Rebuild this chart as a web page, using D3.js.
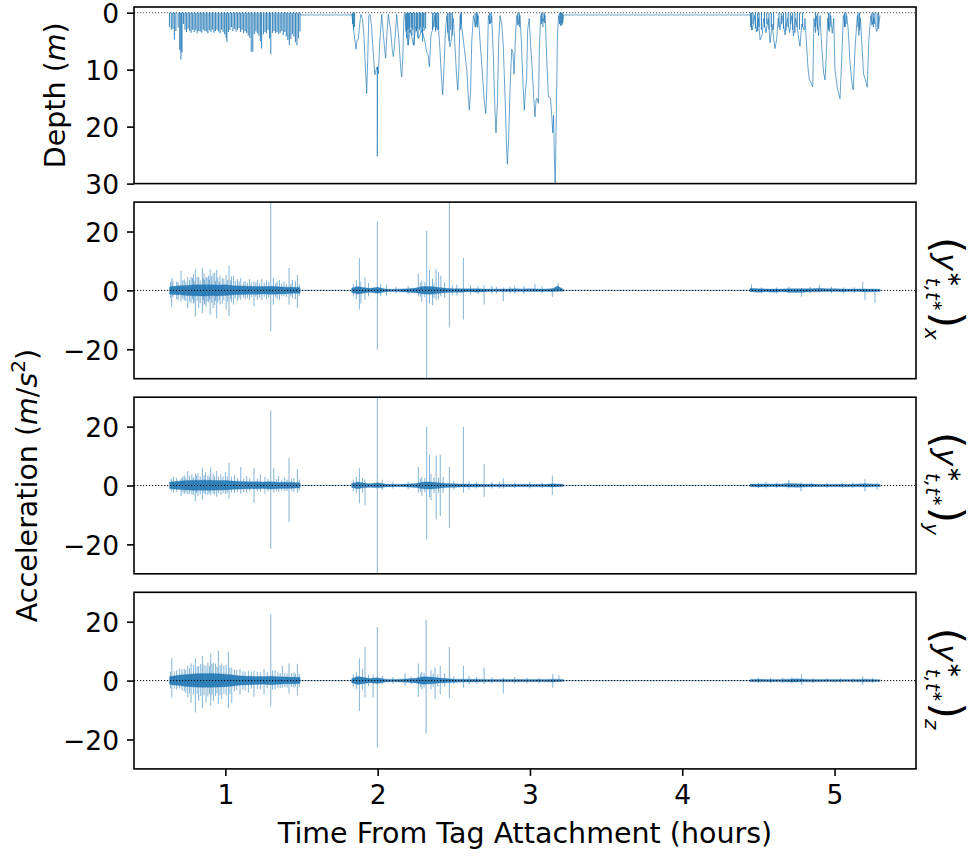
<!DOCTYPE html>
<html>
<head>
<meta charset="utf-8">
<script src="https://cdn.jsdelivr.net/npm/d3@7"></script>
<style>
body{margin:0;background:#fff}
svg text{font-family:"DejaVu Sans",sans-serif;fill:#000}
</style>
</head>
<body>
<svg id="chart" width="972" height="857"></svg>
<script>
// ---- data (hours from tag attachment) ----
const xTicks = [1, 2, 3, 4, 5]
const depthTicks = [0, 10, 20, 30]
const accTicks = [-20, 0, 20]

// short shallow dives: [t, max depth m]
const depthStrokes = [
  [0.633,2.5],[0.645,3.0],[0.655,2.8],[0.665,4.7],[0.675,3.2],[0.690,2.6],[0.700,6.5],[0.708,8.2],[0.715,7.0],[0.725,2.0],
  [0.735,3.0],[0.745,3.4],[0.755,2.8],[0.765,3.2],[0.775,3.5],[0.785,3.0],[0.795,3.4],[0.805,3.1],[0.815,3.6],[0.825,3.2],
  [0.835,3.3],[0.845,3.5],[0.855,3.0],[0.865,3.2],[0.875,3.3],[0.885,3.6],[0.895,3.1],[0.905,3.4],[0.915,3.0],[0.925,3.5],
  [0.935,3.2],[0.945,3.0],[0.955,3.3],[0.965,3.6],[0.975,3.0],[0.985,3.4],[0.995,3.8],[1.005,4.5],[1.010,5.1],[1.020,3.4],
  [1.030,3.0],[1.040,2.5],[1.050,3.2],[1.060,2.8],[1.070,3.3],[1.080,3.0],[1.090,2.7],[1.100,3.4],[1.110,3.0],[1.120,3.6],
  [1.130,3.2],[1.140,3.5],[1.150,4.0],[1.160,4.4],[1.170,6.8],[1.180,6.9],[1.190,3.8],[1.200,3.3],[1.210,3.6],[1.220,4.0],
  [1.230,5.0],[1.238,6.3],[1.250,3.8],[1.260,3.4],[1.270,3.6],[1.280,3.0],[1.290,4.5],[1.298,7.3],[1.310,3.5],[1.320,3.2],
  [1.330,3.6],[1.340,3.4],[1.350,3.8],[1.360,3.5],[1.370,3.2],[1.380,3.9],[1.390,3.4],[1.400,4.2],[1.410,4.8],[1.420,5.7],
  [1.430,4.6],[1.440,3.8],[1.450,4.2],[1.460,5.2],[1.470,5.7],[1.480,4.5],[1.490,3.3],
  [1.835,2.0],[1.842,3.0],[1.848,2.5],[2.185,3.3],[2.190,4.5],[2.195,3.0],[2.200,5.7],[2.205,2.8],[2.210,3.5],[2.220,2.6],
  [2.225,4.0],[2.230,3.0],[2.240,5.7],[2.245,2.5],[2.255,3.2],[2.260,2.8],[2.265,4.5],[2.275,3.0],[2.280,2.6],[2.285,3.5],
  [2.295,5.0],[2.300,2.5],[2.305,3.2],[2.315,2.8],[2.360,3.0],[2.370,2.5],[2.380,3.3],[2.385,2.6],[2.395,2.8],[2.400,3.0],
  [2.460,3.5],[2.470,5.0],[2.480,3.0],[2.490,4.0],[2.545,3.0],[2.550,2.0],[2.640,2.5],[2.650,2.0],[2.655,2.6],[2.735,2.0],
  [2.745,1.8],[2.920,2.2],[2.930,2.5],[3.075,2.0],[3.085,2.5],[3.095,1.8],[3.195,2.0],[3.200,2.3],[3.205,1.8],[3.210,2.2],[3.215,1.9],
  [4.450,2.5],[4.455,3.0],[4.465,2.0],[4.480,2.8],[4.495,3.2],[4.505,2.5],[4.520,3.0],[4.540,2.6],[4.555,2.0],[4.570,3.0],
  [4.585,2.5],[4.600,3.0],[4.635,2.5],[4.650,2.0],[4.665,2.8],[4.680,3.2],[4.695,2.5],[4.710,2.0],[4.725,3.0],[4.740,3.5],
  [4.755,2.5],[4.770,3.0],[4.790,2.5],[4.875,2.5],[4.890,3.0],[4.960,3.0],[4.970,2.5],[5.065,2.5],[5.075,2.0],[5.155,2.5],
  [5.165,3.0],[5.245,2.2],[5.255,2.5],[5.265,2.0],[5.280,2.5],[5.290,2.8]
]

// depth profile of the deeper dives: [t, depth m]
const depthTrace = [
  [1.490,0.4],[1.829,0.4],
  [1.830,0.3],[1.840,2.5],[1.850,4.8],[1.858,6.4],[1.865,4.8],[1.873,4.7],[1.882,2.0],[1.890,0.3],[1.900,1.0],[1.910,4.0],
  [1.918,9.0],[1.928,14.2],[1.935,8.0],[1.942,0.5],[1.950,0.3],[1.960,2.5],[1.968,6.0],[1.976,8.9],[1.982,10.9],[1.990,10.0],
  [1.997,9.5],[1.998,25.2],[1.999,9.5],[2.005,10.7],[2.014,5.0],[2.027,0.3],[2.038,4.0],[2.048,7.0],[2.053,8.0],[2.060,4.0],
  [2.070,0.3],[2.085,3.0],[2.096,6.5],[2.103,7.7],[2.110,6.0],[2.125,0.3],[2.140,5.0],[2.152,10.0],[2.158,11.3],[2.165,8.0],
  [2.173,0.3],[2.180,0.3],[2.200,5.7],[2.215,3.0],[2.235,5.7],[2.250,2.5],[2.270,4.5],[2.290,3.0],[2.310,5.0],[2.322,6.9],
  [2.332,7.5],[2.340,9.5],[2.350,4.0],[2.365,2.5],[2.377,0.5],[2.390,3.0],[2.400,2.8],[2.408,6.0],[2.418,11.0],[2.427,14.4],
  [2.435,10.0],[2.445,3.0],[2.455,0.5],[2.464,4.0],[2.475,6.0],[2.485,4.5],[2.497,1.0],[2.508,6.0],[2.518,11.0],[2.526,13.6],
  [2.533,10.0],[2.541,0.5],[2.555,3.0],[2.570,6.5],[2.585,10.0],[2.595,14.5],[2.602,17.1],[2.610,14.0],[2.618,5.0],[2.629,0.5],
  [2.645,2.5],[2.661,0.5],[2.675,6.0],[2.690,11.5],[2.700,15.5],[2.710,17.7],[2.716,14.0],[2.727,0.5],[2.738,2.0],[2.749,0.5],
  [2.760,8.0],[2.770,17.0],[2.777,21.1],[2.786,16.0],[2.795,5.0],[2.803,0.5],[2.815,2.0],[2.825,6.0],[2.838,16.0],[2.847,24.0],
  [2.852,26.6],[2.860,22.0],[2.870,13.0],[2.880,6.4],[2.888,7.0],[2.896,10.8],[2.905,4.0],[2.913,0.5],[2.925,2.0],[2.935,0.5],
  [2.945,6.0],[2.955,13.0],[2.963,17.1],[2.970,14.0],[2.978,11.8],[2.985,3.0],[2.995,1.0],[3.005,6.0],[3.015,10.0],[3.025,15.0],
  [3.033,18.3],[3.040,15.4],[3.045,15.0],[3.056,15.9],[3.062,6.0],[3.071,0.5],[3.085,1.5],[3.100,0.5],[3.110,8.0],[3.121,14.8],
  [3.135,15.0],[3.144,18.5],[3.150,21.1],[3.155,18.0],[3.160,25.0],[3.166,30.5],[3.172,20.0],[3.180,5.0],[3.187,0.5],[3.195,1.9],
  [3.205,2.2],[3.215,1.5],[3.220,0.5],[3.222,0.4],[4.443,0.4],
  [4.445,0.3],[4.460,3.0],[4.475,0.5],[4.489,3.4],[4.500,1.0],[4.511,4.8],[4.525,3.8],[4.535,1.0],[4.550,3.5],[4.565,1.0],
  [4.577,5.3],[4.590,2.0],[4.600,4.5],[4.609,6.3],[4.620,4.7],[4.630,1.0],[4.642,3.0],[4.655,0.5],[4.675,3.9],[4.690,1.0],
  [4.705,3.5],[4.720,0.5],[4.730,4.1],[4.745,1.0],[4.760,3.6],[4.773,5.9],[4.785,2.0],[4.800,3.0],[4.806,1.0],[4.815,5.0],
  [4.825,9.5],[4.835,11.8],[4.845,12.2],[4.857,13.0],[4.865,1.0],[4.875,3.5],[4.883,0.5],[4.895,4.0],[4.905,0.5],[4.916,6.0],
  [4.928,10.5],[4.938,11.8],[4.945,8.0],[4.955,1.0],[4.966,3.3],[4.975,0.5],[4.985,3.6],[4.995,1.0],[5.003,10.1],[5.020,13.5],
  [5.036,15.1],[5.046,9.0],[5.058,0.5],[5.070,2.5],[5.080,0.5],[5.090,3.0],[5.102,8.9],[5.115,12.5],[5.123,13.5],[5.135,6.0],
  [5.150,0.5],[5.160,4.0],[5.170,1.0],[5.180,5.5],[5.190,10.7],[5.205,12.0],[5.215,13.1],[5.225,5.0],[5.238,0.5],[5.250,2.0],
  [5.260,1.0],[5.277,3.3],[5.290,2.0],[5.299,0.5]
]

// dense core of the acceleration signal: [t, low, high] m/s^2
const xBand = [
  [0.633,-1.2,1.2],[0.66,-1.4,1.4],[0.70,-1.5,1.6],[0.75,-1.7,1.7],[0.80,-1.8,1.9],[0.85,-1.9,1.9],[0.90,-1.8,1.9],[0.95,-1.8,1.8],
  [1.00,-1.7,1.9],[1.05,-1.5,1.6],[1.10,-1.4,1.5],[1.15,-1.3,1.4],[1.20,-1.3,1.3],[1.25,-1.2,1.3],[1.30,-1.3,1.4],[1.35,-1.2,1.2],
  [1.40,-1.1,1.1],[1.45,-1.0,1.1],[1.49,-1.0,1.0],[1.492,0,0],[1.828,0,0],
  [1.83,-0.7,0.8],[1.87,-1.2,1.3],[1.90,-1.0,1.0],[1.95,-0.6,0.7],[2.00,-1.0,1.1],[2.05,-0.5,0.5],[2.10,-0.4,0.4],[2.15,-0.5,0.5],
  [2.20,-0.6,0.6],[2.25,-0.8,0.8],[2.30,-1.2,1.3],[2.35,-1.3,1.3],[2.40,-1.0,1.0],[2.45,-0.7,0.7],[2.50,-0.6,0.6],[2.55,-0.6,0.6],
  [2.60,-0.5,0.6],[2.65,-0.6,0.6],[2.70,-0.5,0.5],[2.75,-0.4,0.5],[2.80,-0.4,0.5],[2.85,-0.4,0.5],[2.90,-0.4,0.6],[2.95,-0.4,0.5],
  [3.00,-0.4,0.6],[3.05,-0.4,0.5],[3.10,-0.4,0.5],[3.15,-0.4,0.6],[3.18,-0.3,1.5],[3.22,-0.3,0.4],[3.222,0,0],[4.443,0,0],
  [4.445,-0.5,0.7],[4.50,-0.6,0.6],[4.55,-0.5,0.5],[4.60,-0.6,0.5],[4.65,-0.5,0.5],[4.70,-0.6,0.6],[4.75,-0.7,0.6],[4.80,-0.6,0.6],
  [4.85,-0.5,0.6],[4.90,-0.5,0.7],[4.95,-0.4,0.6],[5.00,-0.4,0.6],[5.05,-0.5,0.5],[5.10,-0.4,0.5],[5.15,-0.4,0.5],[5.20,-0.5,0.5],
  [5.25,-0.5,0.5],[5.30,-0.4,0.4]
]
const yBand = [
  [0.633,-1.0,1.2],[0.66,-1.2,1.3],[0.70,-1.4,1.5],[0.75,-1.5,1.7],[0.80,-1.6,1.8],[0.85,-1.6,1.8],[0.90,-1.6,1.8],[0.95,-1.5,1.7],
  [1.00,-1.5,1.7],[1.05,-1.3,1.5],[1.10,-1.2,1.4],[1.15,-1.1,1.3],[1.20,-1.1,1.3],[1.25,-1.0,1.2],[1.30,-1.2,1.3],[1.35,-1.0,1.1],
  [1.40,-1.0,1.1],[1.45,-0.9,1.0],[1.49,-0.8,0.9],[1.492,0,0],[1.828,0,0],
  [1.83,-0.7,0.7],[1.87,-1.1,1.2],[1.90,-0.8,0.9],[1.95,-0.6,0.6],[2.00,-0.8,0.9],[2.05,-0.5,0.5],[2.10,-0.4,0.4],[2.15,-0.4,0.4],
  [2.20,-0.5,0.5],[2.25,-0.7,0.7],[2.30,-1.1,1.2],[2.35,-1.2,1.2],[2.40,-0.9,0.9],[2.45,-0.7,0.7],[2.50,-0.6,0.6],[2.55,-0.5,0.5],
  [2.60,-0.5,0.5],[2.65,-0.5,0.5],[2.70,-0.4,0.4],[2.75,-0.4,0.4],[2.80,-0.4,0.4],[2.85,-0.4,0.4],[2.90,-0.4,0.4],[2.95,-0.4,0.4],
  [3.00,-0.4,0.4],[3.05,-0.4,0.4],[3.10,-0.4,0.4],[3.15,-0.5,0.6],[3.22,-0.3,0.4],[3.222,0,0],[4.443,0,0],
  [4.445,-0.4,0.5],[4.50,-0.5,0.5],[4.55,-0.4,0.5],[4.60,-0.4,0.5],[4.65,-0.4,0.5],[4.70,-0.5,0.7],[4.75,-0.6,0.6],[4.80,-0.5,0.5],
  [4.85,-0.4,0.5],[4.90,-0.4,0.4],[4.95,-0.4,0.4],[5.00,-0.4,0.4],[5.05,-0.4,0.4],[5.10,-0.4,0.4],[5.15,-0.4,0.5],[5.20,-0.5,0.6],
  [5.25,-0.4,0.5],[5.30,-0.4,0.4]
]
const zBand = [
  [0.633,-1.2,1.3],[0.66,-1.5,1.6],[0.70,-1.7,1.9],[0.75,-2.0,2.1],[0.80,-2.2,2.3],[0.85,-2.3,2.4],[0.90,-2.3,2.4],[0.95,-2.2,2.3],
  [1.00,-2.1,2.2],[1.05,-1.8,1.9],[1.10,-1.5,1.6],[1.15,-1.4,1.5],[1.20,-1.3,1.4],[1.25,-1.2,1.4],[1.30,-1.4,1.5],[1.35,-1.2,1.3],
  [1.40,-1.1,1.2],[1.45,-1.1,1.1],[1.49,-1.0,1.1],[1.492,0,0],[1.828,0,0],
  [1.83,-0.7,0.7],[1.87,-1.3,1.4],[1.90,-1.1,1.1],[1.95,-0.7,0.7],[2.00,-1.0,1.0],[2.05,-0.5,0.5],[2.10,-0.4,0.4],[2.15,-0.5,0.5],
  [2.20,-0.6,0.6],[2.25,-0.8,0.8],[2.30,-1.2,1.3],[2.35,-1.1,1.2],[2.40,-0.8,0.9],[2.45,-0.7,0.7],[2.50,-0.6,0.5],[2.55,-0.5,0.5],
  [2.60,-0.5,0.5],[2.65,-0.5,0.5],[2.70,-0.4,0.4],[2.75,-0.4,0.4],[2.80,-0.4,0.4],[2.85,-0.4,0.4],[2.90,-0.4,0.4],[2.95,-0.4,0.4],
  [3.00,-0.4,0.4],[3.05,-0.4,0.4],[3.10,-0.4,0.4],[3.15,-0.5,0.5],[3.22,-0.3,0.4],[3.222,0,0],[4.443,0,0],
  [4.445,-0.4,0.4],[4.50,-0.4,0.5],[4.55,-0.4,0.4],[4.60,-0.4,0.4],[4.65,-0.4,0.4],[4.70,-0.5,0.5],[4.75,-0.5,0.6],[4.80,-0.4,0.5],
  [4.85,-0.4,0.4],[4.90,-0.4,0.4],[4.95,-0.3,0.4],[5.00,-0.4,0.4],[5.05,-0.3,0.4],[5.10,-0.3,0.4],[5.15,-0.4,0.4],[5.20,-0.4,0.5],
  [5.25,-0.4,0.4],[5.30,-0.3,0.3]
]

// individual spikes: [t, low, high] m/s^2
const xSpikes = [
  [0.640,-2.5,2.8],[0.648,-5.6,4.2],[0.655,-2.2,3.2],[0.68,-3,3],[0.69,-3.2,2.8],[0.709,-3.7,6.7],[0.72,-2.8,3.4],[0.73,-3.5,3.8],
  [0.74,-3.5,3.0],[0.753,-6.0,4.5],[0.765,-3.8,3.6],[0.775,-4.3,4.5],[0.785,-3.0,4.2],[0.79,-4.5,5.5],[0.795,-4.2,3.2],[0.803,-9.0,7.2],
  [0.815,-3.6,4.6],[0.825,-6.0,4.5],[0.835,-4.4,3.4],[0.849,-7.7,7.5],[0.855,-3.2,4.0],[0.86,-5,5.8],[0.865,-4.6,3.6],[0.873,-5.6,4.5],
  [0.88,-3.8,4.4],[0.89,-4,5],[0.895,-3.0,3.6],[0.900,-8.2,7.2],[0.91,-4.2,4.8],[0.919,-6.0,5.7],[0.93,-5,6],[0.935,-3.6,3.2],
  [0.943,-9.4,7.0],[0.95,-4.0,4.4],[0.96,-3.2,3.0],[0.965,-4.8,5.0],[0.98,-4.5,4.2],[0.99,-3.4,4.0],[1.005,-6.5,5.2],[1.015,-3.8,3.6],
  [1.024,-8.8,8.4],[1.035,-3.0,3.4],[1.04,-4,4.8],[1.053,-4.8,5.0],[1.065,-2.8,3.2],[1.08,-3.5,3.8],[1.09,-2.6,3.0],[1.101,-3.2,4.2],
  [1.12,-2.4,2.8],[1.13,-3,3.2],[1.145,-2.6,2.6],[1.158,-3.2,3.9],[1.17,-2.4,2.9],[1.188,-5.4,3.1],[1.20,-2.2,2.6],[1.21,-3.2,3.5],
  [1.225,-2.5,2.4],[1.239,-3.2,3.9],[1.255,-2.2,2.6],[1.27,-3,3.4],[1.285,-2.6,2.8],[1.298,-13.9,30],[1.315,-4.8,4.2],[1.33,-2.2,2.4],
  [1.34,-2.8,3.0],[1.355,-3.2,3.6],[1.37,-2.0,2.4],[1.385,-2.0,3.1],[1.40,-2.2,2.2],[1.418,-4.8,7.6],[1.43,-2.0,2.3],[1.44,-2.6,3.6],
  [1.46,-3,3.2],[1.473,-6.0,5.3],[1.485,-2.0,2.2],
  [1.84,-2,2.2],[1.86,-3,3.5],[1.880,-6.5,11.0],[1.89,-4.5,3],[1.917,-3.2,4.5],[1.94,-2,2.5],[1.998,-20.1,23.3],[2.02,-2,2.2],
  [2.058,-1.8,1.9],[2.12,-1.0,1.2],[2.2,-1.2,1.5],[2.267,-2.0,5.7],[2.28,-2.2,2.6],[2.29,-3.8,3.3],[2.31,-2.4,2.8],[2.322,-30,20.3],
  [2.340,-4.3,7.0],[2.36,-5,4],[2.37,-2.6,2.4],[2.384,-3.2,7.2],[2.40,-3,6.3],[2.415,-2.0,5.0],[2.44,-2.5,2.8],[2.471,-12.4,30],
  [2.49,-1.6,1.8],[2.52,-1.8,2],[2.563,-9.9,11.0],[2.61,-1.5,1.8],[2.66,-1.2,1.4],[2.699,-4.8,1.8],[2.75,-1.2,1.5],[2.78,-1.0,1.2],
  [2.825,-3.7,1.0],[2.87,-1.0,1.3],[2.90,-1.2,1.6],[2.96,-1.3,1.5],[3.033,-0.5,2.2],[3.08,-1.0,1.4],[3.147,-2.2,0.8],[3.186,-0.3,2.5],
  [4.455,-0.5,2.0],[4.52,-1.0,1.0],[4.62,-1.2,1.0],[4.70,-1.0,1.3],[4.784,-2.2,0.8],[4.84,-0.9,1.2],[4.900,-0.5,1.8],[4.98,-0.9,1.2],
  [5.06,-1.0,1.0],[5.13,-0.8,1.1],[5.185,-0.5,3.0],[5.200,-3.2,0.5],[5.266,-4.3,0.5]
]
const ySpikes = [
  [0.645,-2.0,2.4],[0.66,-2.5,3],[0.68,-2.2,2.6],[0.709,-3.6,2.5],[0.72,-2.4,3.0],[0.73,-2.8,3.5],[0.74,-2.6,2.6],[0.753,-3.0,4.9],
  [0.765,-2.8,3.2],[0.78,-3,3.8],[0.79,-3.2,2.8],[0.803,-5.3,4.0],[0.81,-2.6,3.4],[0.82,-3.5,4.2],[0.835,-3.0,3.0],[0.849,-4.8,6.2],
  [0.86,-2.8,3.6],[0.87,-3,4.5],[0.885,-3.2,3.4],[0.895,-2.6,3.0],[0.904,-3.2,6.2],[0.92,-2.8,4],[0.93,-3.0,3.2],[0.943,-3.8,4.9],
  [0.955,-2.6,3.0],[0.97,-3.2,3.8],[0.985,-2.6,3.0],[1.00,-3,4.5],[1.012,-2.6,3.2],[1.024,-4.5,7.7],[1.04,-2.4,3.0],[1.06,-2.6,3.5],
  [1.08,-2.2,2.6],[1.101,-2.8,6.3],[1.12,-2.2,2.4],[1.14,-2.5,3.2],[1.16,-2.0,2.4],[1.188,-5.9,5.9],[1.21,-2.0,2.4],[1.23,-2.2,3.8],
  [1.26,-2.8,3.0],[1.28,-2.0,2.2],[1.298,-21.5,25.5],[1.318,-2.5,5.9],[1.335,-2.0,2.2],[1.35,-2.2,3.2],[1.37,-1.8,2.0],[1.39,-2.0,2.8],
  [1.405,-1.8,2.0],[1.418,-12.4,9.4],[1.435,-1.8,2.2],[1.45,-2.2,2.5],[1.473,-2.5,5.5],[1.485,-1.8,2.0],
  [1.84,-2,2],[1.86,-2.5,3],[1.880,-6.1,5.9],[1.90,-2.5,2.5],[1.917,-6.8,2.0],[1.998,-30,30],[2.03,-1.5,2],[2.10,-1.0,1.2],
  [2.20,-1.2,1.4],[2.267,-2.5,6.3],[2.28,-2.2,2.4],[2.29,-3.5,3],[2.31,-2.4,2.6],[2.322,-18.3,19.9],[2.340,-4,10.5],[2.35,-5,4],
  [2.37,-2.6,2.8],[2.384,-11.5,10.2],[2.40,-2.4,2.6],[2.411,-10.4,10.5],[2.43,-2.5,3],[2.471,-14.4,6.3],[2.50,-1.4,1.6],[2.563,-2.5,19.9],
  [2.60,-1.5,1.5],[2.65,-1.0,1.2],[2.699,-3.9,7.3],[2.75,-1.0,1.2],[2.80,-1,1.2],[2.825,-1.0,2.5],[2.90,-0.9,1.1],[3.00,-1,1.2],
  [3.08,-0.9,1.0],[3.147,-3.2,3.4],
  [4.50,-0.9,1.0],[4.55,-1.0,1.2],[4.62,-0.8,1.0],[4.70,-1.0,1.9],[4.78,-2.0,1.0],[4.85,-0.8,1.0],[4.95,-0.8,0.9],[5.05,-0.8,0.9],
  [5.12,-0.8,1.0],[5.20,-2.0,2.2],[5.28,-1.5,1.0]
]
const zSpikes = [
  [0.640,-2.6,3.0],[0.648,-5.8,7.6],[0.665,-2.8,3.2],[0.68,-3.0,3.6],[0.700,-2.7,4.2],[0.715,-3.4,3.8],[0.73,-3.6,4.0],[0.74,-4.2,3.6],
  [0.753,-5.8,5.0],[0.765,-4.4,4.2],[0.775,-7.5,5.8],[0.79,-4.8,5.2],[0.803,-10.8,7.6],[0.815,-4.6,4.8],[0.825,-6.9,5.0],[0.838,-5.2,5.6],
  [0.849,-9.4,8.4],[0.86,-5.0,5.4],[0.873,-7.5,5.0],[0.885,-5.4,6.0],[0.895,-4.6,5.0],[0.904,-8.6,9.2],[0.912,-4.8,5.6],[0.921,-6.9,6.1],
  [0.935,-5.2,5.8],[0.945,-4.4,4.8],[0.954,-8.0,10.1],[0.965,-5.0,5.2],[0.976,-6.3,5.8],[0.99,-4.6,5.0],[1.005,-5.0,5.4],[1.020,-9.4,9.9],
  [1.030,-4.6,4.4],[1.042,-7.5,4.4],[1.06,-3.6,3.8],[1.075,-3.2,3.6],[1.096,-4.7,3.9],[1.115,-3.0,3.2],[1.13,-3.4,3.0],[1.151,-4.1,3.3],
  [1.17,-2.8,3.0],[1.188,-5.5,3.3],[1.21,-2.8,3.0],[1.23,-3.0,2.8],[1.254,-4.7,3.9],[1.275,-2.6,3.0],[1.298,-8.6,22.5],[1.31,-3.0,3.4],
  [1.326,-3.0,3.6],[1.345,-2.4,2.8],[1.36,-2.6,2.6],[1.374,-2.4,5.0],[1.39,-2.2,2.6],[1.405,-2.4,2.4],[1.418,-4.4,5.8],[1.435,-2.2,2.6],
  [1.45,-2.4,2.8],[1.46,-2.0,2.4],[1.473,-5.0,5.7],[1.485,-2.0,2.4],
  [1.84,-2,2.2],[1.86,-3,3],[1.880,-10.3,7.6],[1.90,-3,4],[1.917,-5.8,11.4],[1.94,-1.8,2.0],[1.970,-5.8,2.0],[1.998,-22.7,18.2],
  [2.03,-1.4,1.6],[2.10,-1.0,1.2],[2.180,-1.8,2.5],[2.22,-1.2,1.4],[2.267,-5.5,5.8],[2.28,-2.2,2.4],[2.29,-3,3],[2.305,-2.4,2.6],
  [2.318,-18.0,20.7],[2.35,-3,3.5],[2.365,-2.2,2.4],[2.377,-6.3,4.4],[2.395,-2.0,2.2],[2.411,-4.7,5.0],[2.44,-2,2.5],[2.471,-5.8,11.4],
  [2.50,-1.2,1.4],[2.563,-2.4,5.0],[2.60,-1.2,1.5],[2.65,-1.0,1.2],[2.699,-1.2,4.4],[2.75,-1.0,1.1],[2.825,-4.4,1.0],[2.90,-1.0,1.2],
  [2.98,-0.9,1.0],[3.06,-0.9,1.0],[3.150,-2.4,2.2],[3.19,-0.5,1.8],
  [4.50,-0.8,0.9],[4.58,-0.8,0.9],[4.66,-0.8,1.0],[4.72,-0.9,1.1],[4.784,-1.5,2.2],[4.86,-0.8,0.9],[4.95,-0.7,0.9],[5.04,-0.7,0.8],
  [5.12,-0.7,0.8],[5.185,-1.5,1.5],[5.25,-0.8,1.0]
]

// ---- layout ----
let svg = d3.select('#chart')
let left = 134, right = 916
let panelTop = [7, 202.1, 397.2, 592.3]
let panelH = 176.6
let blue = '#1f77b4'
let fs = 26.5

let x = d3.scaleLinear().domain([0.40, 5.535]).range([left, right])

function frame(i, y, ticks){
    let top = panelTop[i]
    svg.append('clipPath').attr('id','clip'+i)
        .append('rect').attr('x',left).attr('y',top).attr('width',right-left).attr('height',panelH)

    let yAxis = d3.axisLeft(y).tickValues(ticks).tickSize(7).tickPadding(8)
    let g = svg.append('g').attr('transform','translate('+left+',0)').call(yAxis)
    g.select('.domain').remove()
    g.selectAll('line').attr('stroke','#000').attr('stroke-width',1.6)
    g.selectAll('text').attr('font-size',fs).attr('font-family','DejaVu Sans').attr('dy','0.38em')
    return svg.append('g').attr('clip-path','url(#clip'+i+')')
}

function border(i){
    svg.append('rect')
        .attr('x',left).attr('y',panelTop[i])
        .attr('width',right-left).attr('height',panelH)
        .attr('fill','none').attr('stroke','#000').attr('stroke-width',1.6)
}

// ---- depth panel ----
let yDepth = d3.scaleLinear().domain([30,-1]).range([panelTop[0]+panelH, panelTop[0]])
let gd = frame(0, yDepth, depthTicks)

gd.append('line')
    .attr('x1',left).attr('x2',right)
    .attr('y1',yDepth(0)).attr('y2',yDepth(0))
    .attr('stroke','#555').attr('stroke-width',1).attr('stroke-dasharray','1.2,1.8')

gd.append('path')
    .attr('d', depthStrokes.map(d => 'M'+x(d[0])+','+yDepth(0)+'V'+yDepth(d[1])).join(''))
    .attr('fill','none').attr('stroke',blue).attr('stroke-width',1.1).attr('opacity',0.85)

let depthLine = d3.line().x(d => x(d[0])).y(d => yDepth(d[1]))
gd.append('path')
    .attr('d', depthLine(depthTrace))
    .attr('fill','none').attr('stroke',blue).attr('stroke-width',0.9).attr('opacity',0.75)

border(0)

// ---- acceleration panels ----
let accPanels = [
    {band:xBand, spikes:xSpikes, sub:'x'},
    {band:yBand, spikes:ySpikes, sub:'y'},
    {band:zBand, spikes:zSpikes, sub:'z'}
]

accPanels.forEach((p, k) => {
    let i = k+1
    let top = panelTop[i]
    let y = d3.scaleLinear().domain([-30,30]).range([top+panelH, top])
    let g = frame(i, y, accTicks)

    g.append('path')
        .attr('d', p.spikes.map(d => 'M'+x(d[0])+','+y(d[1])+'V'+y(d[2])).join(''))
        .attr('fill','none').attr('stroke',blue).attr('stroke-width',1).attr('opacity',0.55)

    let area = d3.area().x(d => x(d[0])).y0(d => y(d[1])).y1(d => y(d[2]))
    g.append('path')
        .attr('d', area(p.band))
        .attr('fill',blue).attr('fill-opacity',0.9)
        .attr('stroke',blue).attr('stroke-width',0.6).attr('stroke-opacity',0.5)

    g.append('line')
        .attr('x1',left).attr('x2',right)
        .attr('y1',y(0)).attr('y2',y(0))
        .attr('stroke','#000').attr('stroke-width',1).attr('stroke-dasharray','1.2,1.8')

    border(i)

    // right side label (y*_{t,t*})_x
    let cy = top + panelH/2 - 2
    let t = svg.append('text')
        .attr('transform','translate(936,'+cy+') rotate(90)')
        .attr('text-anchor','middle')
        .attr('font-size',30)
    t.append('tspan').attr('font-size',42).attr('dy',3).text('(')
    t.append('tspan').attr('font-style','italic').attr('dy',-3).text('y')
    t.append('tspan').attr('font-size',20).attr('dy',-12).text('∗')
    t.append('tspan').attr('font-size',20).attr('font-style','italic').attr('dx',-10).attr('dy',22).text('t,t')
    t.append('tspan').attr('font-size',14).attr('dy',-7).text('∗')
    t.append('tspan').attr('font-size',42).attr('dy',0).text(')')
    t.append('tspan').attr('font-size',20).attr('font-style','italic').attr('dy',8).text(p.sub)
})

// ---- x axis ----
let xAxis = d3.axisBottom(x).tickValues(xTicks).tickSize(7).tickPadding(9).tickFormat(d3.format('d'))
let xg = svg.append('g').attr('transform','translate(0,'+(panelTop[3]+panelH)+')').call(xAxis)
xg.select('.domain').remove()
xg.selectAll('line').attr('stroke','#000').attr('stroke-width',1.6)
xg.selectAll('text').attr('font-size',fs).attr('font-family','DejaVu Sans')

// ---- axis titles ----
let tfs = 28.5
svg.append('text')
    .attr('x',(left+right)/2).attr('y',843)
    .attr('text-anchor','middle').attr('font-size',tfs)
    .text('Time From Tag Attachment (hours)')

let dl = svg.append('text')
    .attr('transform','translate(65,'+(panelTop[0]+panelH/2)+') rotate(-90)')
    .attr('text-anchor','middle').attr('font-size',tfs)
dl.append('tspan').text('Depth (')
dl.append('tspan').attr('font-style','italic').text('m')
dl.append('tspan').text(')')

let al = svg.append('text')
    .attr('transform','translate(37,'+((panelTop[1]+panelTop[3]+panelH)/2)+') rotate(-90)')
    .attr('text-anchor','middle').attr('font-size',tfs)
al.append('tspan').text('Acceleration (')
al.append('tspan').attr('font-style','italic').text('m')
al.append('tspan').text('/')
al.append('tspan').attr('font-style','italic').text('s')
al.append('tspan').attr('font-size',20).attr('dy',-12).text('2')
al.append('tspan').attr('dy',12).text(')')
</script>
</body>
</html>
